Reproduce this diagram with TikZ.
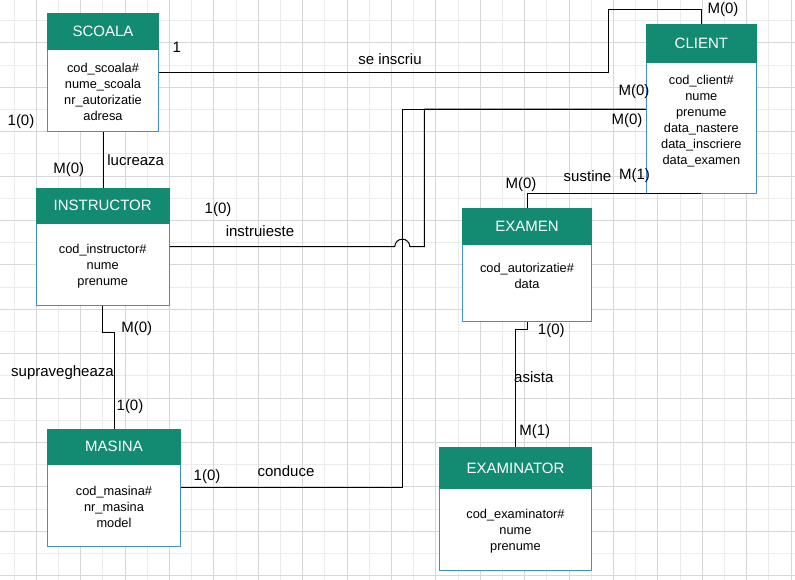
\documentclass[tikz,border=0pt]{standalone}
\usepackage{fontspec}
\setmainfont{Liberation Sans}
\definecolor{headteal}{HTML}{138A72}
\definecolor{boxblue}{HTML}{3F8FD2}
\definecolor{gridminor}{HTML}{EBEBEB}
\definecolor{gridmajor}{HTML}{D7D7D7}
\tikzset{
  entity/.style={draw=boxblue, fill=white, line width=1pt, inner sep=0pt},
  header/.style={draw=headteal, fill=headteal, line width=1pt, anchor=north, text=white, inner sep=0pt, font=\fontsize{15}{18}\selectfont},
  attrs/.style={align=center, inner sep=0pt, font=\fontsize{12.8}{16}\selectfont},
  lbl/.style={inner sep=0pt, font=\fontsize{15}{18}\selectfont},
  conn/.style={line width=1pt, black}
}
\begin{document}
\begin{tikzpicture}[x=1pt,y=-1pt]
    \useasboundingbox (0,0) rectangle (795,580);
    % Background grid
    \foreach \i in {0,...,35} {
        \draw[gridminor, line width=1pt] ({14+22.2*\i},0) -- ({14+22.2*\i},580);
    }
    \foreach \j in {0,...,25} {
        \draw[gridminor, line width=1pt] (0,{20.7+22.2*\j}) -- (795,{20.7+22.2*\j});
    }
    \foreach \i in {1,3,...,35} {
        \draw[gridmajor, line width=1pt] ({14+22.2*\i},0) -- ({14+22.2*\i},580);
    }
    \foreach \j in {1,3,...,25} {
        \draw[gridmajor, line width=1pt] (0,{20.7+22.2*\j}) -- (795,{20.7+22.2*\j});
    }
    % Entities
    \node[entity, minimum width=111.4, minimum height=117.3] (scoala) at (103,72.65) {};
    \node[header, minimum width=111.4, minimum height=35.3] (scoalah) at (scoala.north) {SCOALA};
    \node[attrs] (scoalaa) at (103,92.2) {cod\_scoala\#\\nume\_scoala\\nr\_autorizatie\\adresa};

    \node[entity, minimum width=133.3, minimum height=116.7] (instructor) at (102.65,246.65) {};
    \node[header, minimum width=133.3, minimum height=35] (instructorh) at (instructor.north) {INSTRUCTOR};
    \node[attrs] (instructora) at (102.65,265.7) {cod\_instructor\#\\nume\\prenume};

    \node[entity, minimum width=133.4, minimum height=116.7] (masina) at (114,487.65) {};
    \node[header, minimum width=133.4, minimum height=34.7] (masinah) at (masina.north) {MASINA};
    \node[attrs] (masinaa) at (114,507) {cod\_masina\#\\nr\_masina\\model};

    \node[entity, minimum width=110.7, minimum height=168.3] (client) at (701.35,109.15) {};
    \node[header, minimum width=110.7, minimum height=37.3] (clienth) at (client.north) {CLIENT};
    \node[attrs] (clienta) at (701.35,120.7) {cod\_client\#\\nume\\prenume\\data\_nastere\\data\_inscriere\\data\_examen};

    \node[entity, minimum width=129.4, minimum height=113.4] (examen) at (527,265) {};
    \node[header, minimum width=129.4, minimum height=36.4] (examenh) at (examen.north) {EXAMEN};
    \node[attrs] (examena) at (527,275.5) {cod\_autorizatie\#\\data};

    \node[entity, minimum width=152.4, minimum height=123] (examinator) at (515.5,508.5) {};
    \node[header, minimum width=152.4, minimum height=41.7] (examinatorh) at (examinator.north) {EXAMINATOR};
    \node[attrs] (examinatora) at (515.5,530.8) {cod\_examinator\#\\nume\\prenume};

    % Relationships
    \coordinate (kinscriu) at (608.3,9.3);
    \coordinate (kconduce) at (402.3,109.15);
    \coordinate (kinstruieste) at (424.3,109.15);
    \coordinate (jump) at (394.8,246.65);
    \draw[conn] (scoala.east) -| (kinscriu) -| (client.north);
    \draw[conn] (scoala.south) -- (scoala.south |- instructor.north);
    \draw[conn] (instructor.south) -- ++(0,26.7) -| (masina.north);
    \draw[conn] (masina.east) -| (kconduce) -- (client.west);
    \draw[conn] (instructor.east) -- (jump) arc[start angle=180, end angle=0, radius=7.5pt] -| (kinstruieste) -- (client.west);
    \draw[conn] (client.south) -| (examen.north);
    \draw[conn] (examen.south) -- ++(0,7.6) -| (examinator.north);

    % Labels
    \node[lbl] (seinscriu) at (390,58.7) {se inscriu};
    \node[lbl] (cscoala) at (176.7,47.7) {1};
    \node[lbl] (cclient1) at (723,9.3) {M(0)};
    \node[lbl] (lucreaza) at (135.7,160) {lucreaza};
    \node[lbl] (cscoala2) at (21,121.7) {1(0)};
    \node[lbl] (cinstr1) at (68.7,170) {M(0)};
    \node[lbl] (instruieste) at (260,231) {instruieste};
    \node[lbl] (cinstr2) at (218,209.3) {1(0)};
    \node[lbl] (cclient2) at (634,91.7) {M(0)};
    \node[lbl] (cclient3) at (627,120.7) {M(0)};
    \node[lbl] (conduce) at (286,470.7) {conduce};
    \node[lbl] (cmasina1) at (207,476.7) {1(0)};
    \node[lbl] (supravegheaza) at (62.5,372.7) {supravegheaza};
    \node[lbl] (cinstr3) at (136.7,328.3) {M(0)};
    \node[lbl] (cmasina2) at (130,406.7) {1(0)};
    \node[lbl] (sustine) at (587.5,176) {sustine};
    \node[lbl] (cclient4) at (634.5,176) {M(1)};
    \node[lbl] (cexamen1) at (521,184.3) {M(0)};
    \node[lbl] (asista) at (533.8,376.7) {asista};
    \node[lbl] (cexamen2) at (551.3,330.7) {1(0)};
    \node[lbl] (cexaminator) at (534.7,431.7) {M(1)};
\end{tikzpicture}
\end{document}
